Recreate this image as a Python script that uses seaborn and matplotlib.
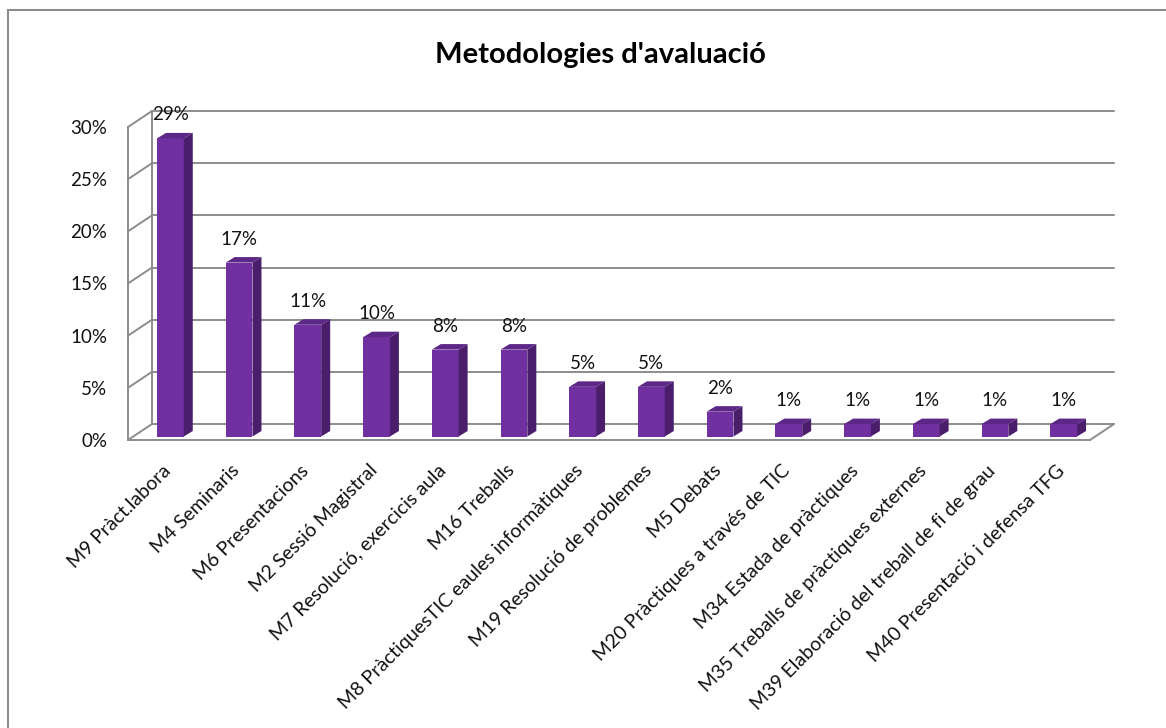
import numpy as np
import matplotlib
matplotlib.use('Agg')
import matplotlib.pyplot as plt
import matplotlib.transforms as mtransforms
from matplotlib.patches import Polygon, Rectangle
from matplotlib.ticker import PercentFormatter
import seaborn as sns

categories = ['M9 Pràct.labora', 'M4 Seminaris', 'M6 Presentacions', 'M2 Sessió Magistral',
              'M7 Resolució, exercicis aula', 'M16 Treballs', 'M8 PràctiquesTIC eaules informàtiques',
              'M19 Resolució de problemes', 'M5 Debats', 'M20 Pràctiques a través de TIC',
              'M34 Estada de pràctiques', 'M35 Treballs de pràctiques externes',
              'M39 Elaboració del treball de fi de grau', 'M40 Presentació i defensa TFG']
values = [0.2857, 0.1667, 0.1071, 0.0952, 0.0833, 0.0833, 0.0476, 0.0476, 0.0238,
          0.0119, 0.0119, 0.0119, 0.0119, 0.0119]
y_ticks = [0, 0.05, 0.10, 0.15, 0.20, 0.25, 0.30]
title = "Metodologies d'avaluació"

sns.set_style('white')
plt.rcParams['font.family'] = ['Lato', 'DejaVu Sans']

W, H = 1166, 728
fig = plt.figure(figsize=(W / 100, H / 100), dpi=100)
ax = fig.add_axes([128 / W, 288 / H, 962 / W, 313 / H])

purple = '#7030A0'
side_col = '#4A1E6B'
top_col = '#5C2787'
grid_col = '#8c8c8c'
txt_col = '#111111'

sns.barplot(x=categories, y=values, color=purple, width=0.39, saturation=1, ax=ax, zorder=3)
ax.set_xlim(-0.5, len(categories) - 0.5)
ax.set_ylim(0, 0.30)
ax.set_xlabel('')
ax.set_ylabel('')
ax.patch.set_alpha(0)

# depth of the back wall, in pixels
dpt = (24, 16)
back = ax.transData + mtransforms.ScaledTranslation(dpt[0] / 100, dpt[1] / 100, fig.dpi_scale_trans)
x_lo, x_hi = ax.get_xlim()

# back wall gridlines and left wall diagonals
for t in y_ticks:
    ax.plot([x_lo, x_hi], [t, t], transform=back, color=grid_col, lw=1.4, zorder=1, clip_on=False)
    p = ax.transData.transform((x_lo, t))
    ax.plot([p[0], p[0] + dpt[0]], [p[1], p[1] + dpt[1]], transform=mtransforms.IdentityTransform(),
            color=grid_col, lw=1.4, zorder=1, clip_on=False)
ax.plot([x_lo, x_lo], [0, 0.30], transform=back, color=grid_col, lw=1.4, zorder=1, clip_on=False)
# right edge of floor
p = ax.transData.transform((x_hi, 0))
ax.plot([p[0], p[0] + dpt[0]], [p[1], p[1] + dpt[1]], transform=mtransforms.IdentityTransform(),
        color=grid_col, lw=1.4, zorder=1, clip_on=False)

# 3d look for the bars
shift = mtransforms.ScaledTranslation(8 / 100, 3.5 / 100, fig.dpi_scale_trans)
bar_tr = ax.transData + shift
bd = (9, 5.5)
for bar, v in zip(ax.patches, values):
    bar.set_transform(bar_tr)
    bar.set_edgecolor('none')
    x0 = bar.get_x()
    x1 = x0 + bar.get_width()
    h = bar.get_height()
    (ax0, ay0), (ax1, ay1) = bar_tr.transform([(x0, 0), (x1, h)])
    side = Polygon([(ax1, ay0), (ax1, ay1), (ax1 + bd[0], ay1 + bd[1]), (ax1 + bd[0], ay0 + bd[1])],
                   closed=True, fc=side_col, ec='none', transform=mtransforms.IdentityTransform(), zorder=3)
    top = Polygon([(ax0, ay1), (ax1, ay1), (ax1 + bd[0], ay1 + bd[1]), (ax0 + bd[0], ay1 + bd[1])],
                  closed=True, fc=top_col, ec='none', transform=mtransforms.IdentityTransform(), zorder=3)
    ax.add_patch(side)
    ax.add_patch(top)
    ax.annotate(f'{v:.0%}', (x0 + bar.get_width() / 2, h), xytext=(8, 27), textcoords='offset pixels',
                ha='center', va='center', fontsize=13.5, color=txt_col)

# axes
for s in ['top', 'right']:
    ax.spines[s].set_visible(False)
for s in ['left', 'bottom']:
    ax.spines[s].set_color(grid_col)
    ax.spines[s].set_linewidth(1.4)
ax.set_yticks(y_ticks)
ax.yaxis.set_major_formatter(PercentFormatter(1.0, decimals=0))
ax.tick_params(axis='y', length=5, width=1.4, color=grid_col, pad=10, labelsize=13.5, labelcolor=txt_col)
ax.set_xticks(range(len(categories)))
ax.set_xticklabels(categories, rotation=45, ha='right', va='center', rotation_mode='anchor')
ax.set_xticks(np.arange(-0.5, len(categories)), minor=True)
ax.tick_params(axis='x', which='major', length=0, pad=20, labelsize=14, labelcolor=txt_col)
ax.tick_params(axis='x', which='minor', length=5, width=1.4, color=grid_col)
lab_shift = mtransforms.ScaledTranslation(6 / 100, 0, fig.dpi_scale_trans)
for lab in ax.get_xticklabels():
    lab.set_transform(lab.get_transform() + lab_shift)

fig.text(600 / W, 1 - 55 / H, title, ha='center', va='center', fontsize=21, fontweight='bold', color='#000000')

fig.add_artist(Rectangle((8 / W, -0.1), 1.2, 1.1 - 10.5 / H, transform=fig.transFigure,
                         fill=False, ec='#8c8c8c', lw=1.5))

fig.savefig('out.png', dpi=100)
